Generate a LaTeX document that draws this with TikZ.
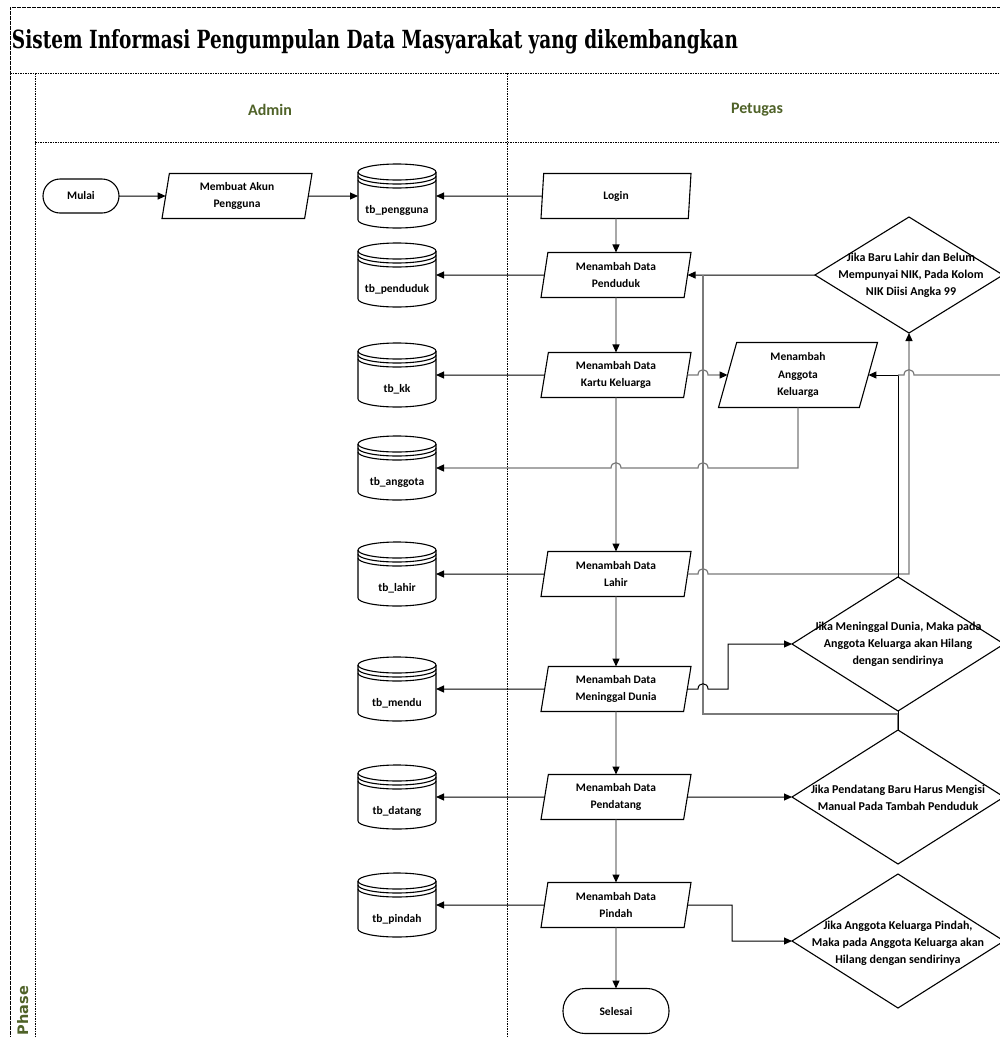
\documentclass[tikz,border=0pt]{standalone}
\usepackage{graphicx}
\usepackage{fontspec}
\setmainfont{Carlito}
\newfontfamily\titlefont{DejaVu Serif}
\newfontfamily\phasefont{DejaVu Sans}
\usetikzlibrary{shapes.geometric,arrows.meta}
\definecolor{lanegreen}{HTML}{4F6228}
\definecolor{lgray}{HTML}{7A7A7A}
\newcommand{\dbcyl}[4]{%
  \node[dbbox] (#1) at (#2,#3) {};
  \draw[shp,fill=white] (#2-39,#3-24) -- (#2-39,#3+24)
    .. controls (#2-39,#3+28.4) and (#2-21.5,#3+32) .. (#2,#3+32)
    .. controls (#2+21.5,#3+32) and (#2+39,#3+28.4) .. (#2+39,#3+24)
    -- (#2+39,#3-24);
  \draw[shp] (#2,#3-24) ellipse [x radius=39, y radius=8];
  \draw[shp] (#2-39,#3-20)
    .. controls (#2-39,#3-15.6) and (#2-21.5,#3-12) .. (#2,#3-12)
    .. controls (#2+21.5,#3-12) and (#2+39,#3-15.6) .. (#2+39,#3-20);
  \draw[shp] (#2-39,#3-16)
    .. controls (#2-39,#3-11.6) and (#2-21.5,#3-8) .. (#2,#3-8)
    .. controls (#2+21.5,#3-8) and (#2+39,#3-11.6) .. (#2+39,#3-16);
  \node (#1-t) at (#2,#3+14) {#4};
}
\begin{document}
\begin{tikzpicture}[x=1pt,y=-1pt,
  every node/.style={font=\bfseries\fontsize{11.5}{17.5}\selectfont, align=center, inner sep=0pt, outer sep=0pt},
  shp/.style={draw=black, line width=1.1pt},
  term/.style={shp, rounded corners=17pt, minimum width=76pt, minimum height=34pt},
  io/.style={shp, trapezium, trapezium left angle=75, trapezium right angle=105, trapezium stretches body, minimum width=150pt, minimum height=45pt},
  dbbox/.style={minimum width=78pt, minimum height=64pt},
  dia/.style={shp, diamond, minimum width=212pt, minimum height=134pt},
  dtext/.style={font=\bfseries\fontsize{12}{17}\selectfont},
  ln/.style={draw=black, line width=1pt},
  lng/.style={draw=lgray, line width=1.2pt},
  tip/.style={-{Triangle[length=8pt,width=7pt,color=black]}},
  frame/.style={draw=black, line width=0.8pt, dash pattern=on 1.6pt off 0.9pt},
]
\useasboundingbox (0,0) rectangle (1000,1037);
% frame
\draw[frame] (10,1040) -- (10,7) -- (1003,7);
\draw[frame] (10,73) -- (1003,73);
\draw[frame] (35,73) -- (35,1040);
\draw[frame] (35,142) -- (1003,142);
\draw[frame] (507,73) -- (507,1040);
\node[anchor=base west] (title) at (12,48) {\resizebox{726pt}{19pt}{\titlefont\bfseries\fontsize{24}{24}\selectfont Sistem Informasi Pengumpulan Data Masyarakat yang dikembangkan}};
\node[font=\bfseries\fontsize{16}{16}\selectfont, text=lanegreen] (admin) at (270,110) {Admin};
\node[font=\bfseries\fontsize{16}{16}\selectfont, text=lanegreen] (petugas) at (757,110) {Petugas};
\node[font=\phasefont\bfseries\fontsize{14.5}{14.5}\selectfont, text=lanegreen, rotate=90, anchor=base west] (phase) at (28,1035) {Phase};

% nodes
\node[term] (mulai) at (81,196) {Mulai};
\node[io] (mak) at (237,196) {Membuat Akun\\Pengguna};
\dbcyl{tbpeng}{397}{196}{tb\_pengguna}
\dbcyl{tbpend}{397}{275}{tb\_penduduk}
\dbcyl{tbkk}{397}{375}{tb\_kk}
\dbcyl{tbang}{397}{468}{tb\_anggota}
\dbcyl{tblahir}{397}{574}{tb\_lahir}
\dbcyl{tbmendu}{397}{689}{tb\_mendu}
\dbcyl{tbdatang}{397}{797}{tb\_datang}
\dbcyl{tbpindah}{397}{905}{tb\_pindah}

\node[io] (login) at (616,196) {Login};
\node[io] (pend) at (616,275) {Menambah Data\\Penduduk};
\node[io] (kk) at (616,375) {Menambah Data\\Kartu Keluarga};
\node[io] (lahir) at (616,574) {Menambah Data\\Lahir};
\node[io] (mend) at (616,689) {Menambah Data\\Meninggal Dunia};
\node[io] (datang) at (616,797) {Menambah Data\\Pendatang};
\node[io] (pindah) at (616,905) {Menambah Data\\Pindah};
\node[term, rounded corners=22pt, minimum width=106pt, minimum height=45pt] (selesai) at (616,1011) {Selesai};
\node[io, trapezium left angle=68, trapezium right angle=112, minimum width=159pt, minimum height=65pt] (ang) at (798,375) {Menambah\\Anggota\\Keluarga};

\node[dia, minimum width=188pt, minimum height=116pt] (d1) at (909,275) {};
\node[dtext] (d1t) at (911,275) {Jika Baru Lahir dan Belum\\Mempunyai NIK, Pada Kolom\\NIK Diisi Angka 99};
\node[dia] (d2) at (898,644) {};
\node[dtext] (d2t) at (898,644) {Jika Meninggal Dunia, Maka pada\\Anggota Keluarga akan Hilang\\dengan sendirinya};
\node[dia] (d3) at (898,797) {};
\node[dtext] (d3t) at (898,798) {Jika Pendatang Baru Harus Mengisi\\Manual Pada Tambah Penduduk};
\node[dia] (d4) at (898,941) {};
\node[dtext] (d4t) at (898,943) {Jika Anggota Keluarga Pindah,\\Maka pada Anggota Keluarga akan\\Hilang dengan sendirinya};
\coordinate (edgeR) at (1000,375);

% connectors
\draw[ln,tip] (mulai.east) -- (mak.west);
\draw[ln,tip] (mak.east) -- (tbpeng.east -| tbpeng.west);
\draw[ln,tip] (login.west) -- (tbpeng.east);
\draw[lng,tip] (login.south) -- (pend.north);
\draw[ln,tip] (pend.west) -- (tbpend.east);
\draw[lng,tip] (pend.south) -- (kk.north);
\draw[ln,tip] (kk.west) -- (tbkk.east);
\draw[lng,tip] (kk.east) -- (698,375) .. controls (698,368) and (708,368) .. (708,375) -- (ang.west);
\draw[lng,tip] (ang.south) -- (798,468) -- (708,468) .. controls (708,461) and (698,461) .. (698,468)
   -- (621,468) .. controls (621,461) and (611,461) .. (611,468) -- (tbang.east);
\draw[lng,tip] (kk.south) -- (lahir.north);
\draw[ln,tip] (lahir.west) -- (tblahir.east);
\draw[lng,tip] (lahir.east) -- (698,574) .. controls (698,567) and (708,567) .. (708,574) -- (909,574) -- (d1.south);
\draw[ln,tip] (d2.north) |- (ang.east);
\draw[lng] (edgeR) -- (914,375) .. controls (914,368) and (904,368) .. (904,375) -- (898,375);
\draw[ln,tip] (d1.west) -- (pend.east);
\draw[lng] (d3.north) -- (898,714) -- (703,714) -- (703,275);
\draw[ln] (d2.south) -- (d3.north);
\draw[lng,tip] (lahir.south) -- (mend.north);
\draw[ln,tip] (mend.west) -- (tbmendu.east);
\draw[ln,tip] (mend.east) -- (698,689) .. controls (698,682) and (708,682) .. (708,689) -- (728,689) -- (728,644) -- (d2.west);
\draw[lng,tip] (mend.south) -- (datang.north);
\draw[ln,tip] (datang.west) -- (tbdatang.east);
\draw[ln,tip] (datang.east) -- (d3.west);
\draw[lng,tip] (datang.south) -- (pindah.north);
\draw[ln,tip] (pindah.west) -- (tbpindah.east);
\draw[ln,tip] (pindah.east) -- (732,905) |- (d4.west);
\draw[lng,tip] (pindah.south) -- (selesai.north);
\end{tikzpicture}
\end{document}
